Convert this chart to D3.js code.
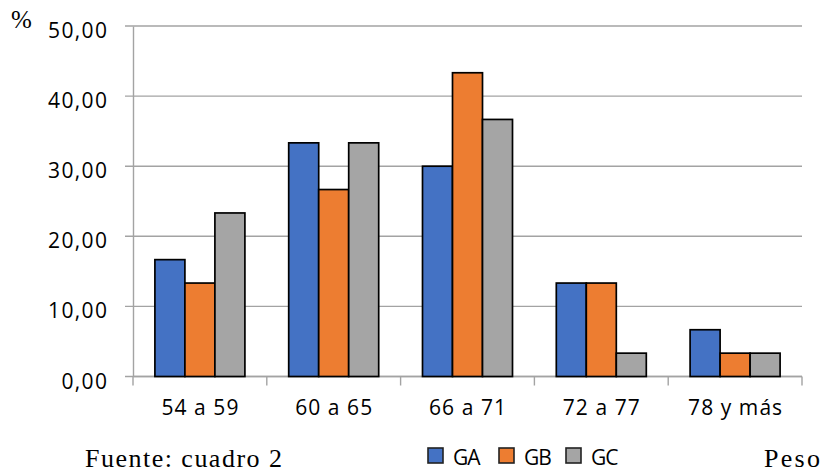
<!DOCTYPE html>
<html><head><meta charset="utf-8">
<script src="https://cdn.jsdelivr.net/npm/d3@7/dist/d3.min.js"></script>
<style>
body{margin:0;background:#fff;}
svg{display:block;}
</style></head>
<body>
<svg id="chart" width="824" height="474"></svg>
<script>
const categories = ["54 a 59", "60 a 65", "66 a 71", "72 a 77", "78 y más"];
const seriesNames = ["GA", "GB", "GC"];
const GA = [16.67, 33.33, 30.00, 13.33, 6.67];
const GB = [13.33, 26.67, 43.33, 13.33, 3.33];
const GC = [23.33, 33.33, 36.67, 3.33, 3.33];
const seriesValues = [GA, GB, GC];
const colors = ["#4472C4", "#ED7D31", "#A5A5A5"];
const yTicks = [0, 10, 20, 30, 40, 50];

(function () {
const svg = d3.select("#chart");
const sansFont = "'Open Sans', sans-serif";
const serifFont = "'Liberation Serif', 'Times New Roman', serif";
const mLeft = 133, mRight = 802, mTop = 26, mBottom = 376.5;

const x = d3.scaleBand().domain(categories).range([mLeft, mRight]).paddingInner(0).paddingOuter(0);
const x1 = d3.scaleBand().domain(seriesNames).range([0, x.bandwidth()]).paddingInner(0).paddingOuter(0.73);
const y = d3.scaleLinear().domain([0, 50]).range([mBottom, mTop]);
const gridColor = "#A3A3A3";

// fit letter-spacing so a sample text gets a target width
function fitSpacing(sel, sampleText, targetW) {
  const node = sel.filter(function () { return this.textContent === sampleText; }).node() || sel.node();
  node.setAttribute("letter-spacing", "0");
  const w = node.getComputedTextLength();
  const n = node.textContent.length;
  const ls = Math.max(-1, (targetW - w) / Math.max(1, n - 1));
  sel.attr("letter-spacing", ls + "px");
  return ls;
}

// gridlines
svg.append("g").selectAll("line").data(yTicks).join("line")
  .attr("x1", mLeft - 8).attr("x2", mRight)
  .attr("y1", d => y(d)).attr("y2", d => y(d))
  .attr("stroke", gridColor).attr("stroke-width", 1.4);

// y axis
const yAxis = d3.axisLeft(y).tickValues(yTicks).tickSize(0).tickPadding(26)
  .tickFormat(d => d3.format(".2f")(d).replace(".", ","));
const gy = svg.append("g").attr("transform", `translate(${mLeft},0)`).call(yAxis);
gy.select(".domain").attr("stroke", gridColor).attr("stroke-width", 1.4);
const yt = gy.selectAll("text").attr("font-family", sansFont).attr("font-size", 21)
  .attr("fill", "#000").attr("dy", "0.55em");
const yls = fitSpacing(yt, "50,00", 59);
yt.attr("x", -26 + yls);

// x axis
const xAxis = d3.axisBottom(x).tickSize(0).tickPadding(24);
const gx = svg.append("g").attr("transform", `translate(0,${mBottom})`).call(xAxis);
gx.select(".domain").remove();
const xt = gx.selectAll("text").attr("font-family", sansFont).attr("font-size", 21).attr("fill", "#000");
const xls = fitSpacing(xt, "54 a 59", 77);
xt.attr("x", xls / 2);

// boundary ticks
const boundaries = categories.map(c => x(c)).concat([x(categories[categories.length-1]) + x.bandwidth()]);
svg.append("g").selectAll("line").data(boundaries).join("line")
  .attr("x1", d => d).attr("x2", d => d)
  .attr("y1", mBottom).attr("y2", mBottom + 9)
  .attr("stroke", gridColor).attr("stroke-width", 1.4);
svg.append("line").attr("x1", mLeft).attr("x2", mRight).attr("y1", mBottom).attr("y2", mBottom)
  .attr("stroke", gridColor).attr("stroke-width", 1.4);

// bars
const groups = svg.append("g").selectAll("g").data(categories).join("g")
  .attr("transform", c => `translate(${x(c)},0)`);
groups.selectAll("rect").data((c, i) => seriesNames.map((s, j) => ({s, j, v: seriesValues[j][i]})))
  .join("rect")
  .attr("x", d => x1(d.s)).attr("width", x1.bandwidth())
  .attr("y", d => y(d.v)).attr("height", d => y(0) - y(d.v))
  .attr("fill", d => colors[d.j]).attr("stroke", "#000").attr("stroke-width", 1.7);

// % label
svg.append("text").attr("x", 11).attr("y", 28).text("%")
  .attr("font-family", serifFont).attr("font-size", 25).attr("fill", "#000");

// legend
const legendX = [428, 499, 566];
const lg = svg.append("g").selectAll("g").data(seriesNames).join("g")
  .attr("transform", (d, i) => `translate(${legendX[i]},448)`);
lg.append("rect").attr("width", 15).attr("height", 15)
  .attr("fill", (d, i) => colors[i]).attr("stroke", "#222").attr("stroke-width", 1.6);
const lt = lg.append("text").attr("x", 25).attr("y", 17).text(d => d)
  .attr("font-family", sansFont).attr("font-size", 21).attr("fill", "#000");
fitSpacing(lt, "GA", 27);

// footer texts
const ft = svg.append("text").attr("x", 85).attr("y", 467).text("Fuente: cuadro 2")
  .attr("font-family", serifFont).attr("font-size", 26).attr("fill", "#000");
fitSpacing(ft, "Fuente: cuadro 2", 197);
const pt = svg.append("text").attr("x", 764).attr("y", 467).text("Peso")
  .attr("font-family", serifFont).attr("font-size", 26).attr("fill", "#000");
fitSpacing(pt, "Peso", 56);
})();
</script>
</body></html>
